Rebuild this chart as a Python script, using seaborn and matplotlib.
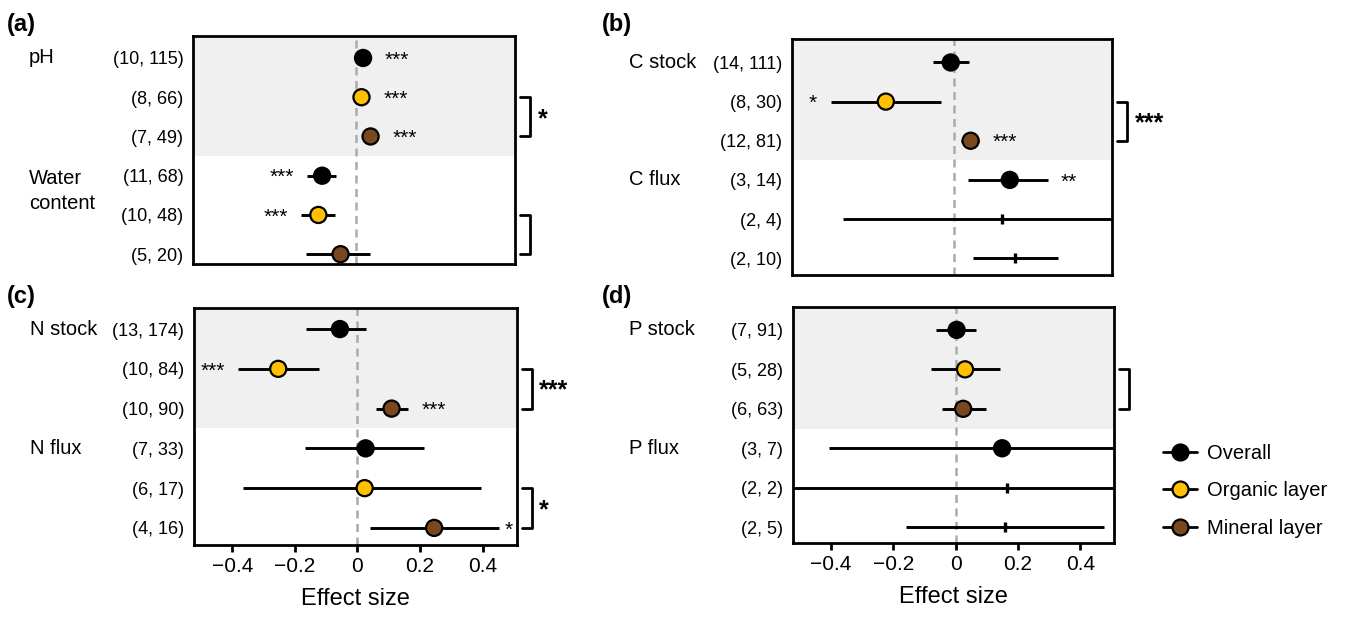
import matplotlib
matplotlib.use("Agg")
import matplotlib.pyplot as plt
import matplotlib.transforms as mtransforms
from matplotlib.lines import Line2D
import numpy as np
import pandas as pd
import seaborn as sns

# --- data -------------------------------------------------------------------
LAYERS = ["Overall", "Organic layer", "Mineral layer"]
LAYER_COLORS = {"Overall": "#000000", "Organic layer": "#FFC000", "Mineral layer": "#7A481E"}

# (a) pH / water content
a_groups = ["pH", "Water\ncontent"]
a_studies = [10, 8, 7, 11, 10, 5]
a_obs = [115, 66, 49, 68, 48, 20]
a_mean = [0.022, 0.017, 0.046, -0.109, -0.121, -0.050]
a_lo = [0.010, 0.005, 0.030, -0.157, -0.175, -0.159]
a_hi = [0.034, 0.029, 0.062, -0.063, -0.069, 0.044]
a_sig = ["***", "***", "***", "***", "***", ""]
a_side = ["right", "right", "right", "left", "left", ""]
a_between = ["*", ""]          # organic vs mineral, per group (None = not tested)

# (b) C stock / C flux
b_groups = ["C stock", "C flux"]
b_studies = [14, 8, 12, 3, 2, 2]
b_obs = [111, 30, 81, 14, 4, 10]
b_mean = [-0.011, -0.220, 0.053, 0.179, 0.155, 0.196]
b_lo = [-0.069, -0.398, 0.022, 0.043, -0.359, 0.062]
b_hi = [0.048, -0.042, 0.081, 0.301, 0.90, 0.333]
b_sig = ["", "*", "***", "**", "", ""]
b_side = ["", "left", "right", "right", "", ""]
b_between = ["***", None]

# (c) N stock / N flux
c_groups = ["N stock", "N flux"]
c_studies = [13, 10, 10, 7, 6, 4]
c_obs = [174, 84, 90, 33, 17, 16]
c_mean = [-0.056, -0.253, 0.109, 0.026, 0.023, 0.245]
c_lo = [-0.163, -0.381, 0.059, -0.168, -0.365, 0.039]
c_hi = [0.027, -0.122, 0.163, 0.212, 0.396, 0.453]
c_sig = ["", "***", "***", "", "", "*"]
c_side = ["", "left", "right", "", "", "right"]
c_between = ["***", "*"]

# (d) P stock / P flux
d_groups = ["P stock", "P flux"]
d_studies = [7, 5, 6, 3, 2, 2]
d_obs = [91, 28, 63, 7, 2, 5]
d_mean = [0.003, 0.030, 0.024, 0.149, 0.165, 0.159]
d_lo = [-0.063, -0.079, -0.043, -0.407, -0.90, -0.158]
d_hi = [0.065, 0.141, 0.096, 0.90, 0.90, 0.477]
d_sig = ["", "", "", "", "", ""]
d_side = ["", "", "", "", "", ""]
d_between = ["", None]

xticks = [-0.4, -0.2, 0, 0.2, 0.4]
xticklabels = ["\u22120.4", "\u22120.2", "0", "0.2", "0.4"]

# --- style ------------------------------------------------------------------
sns.set_theme(style="ticks")
plt.rcParams["font.family"] = ["Liberation Sans", "DejaVu Sans"]
plt.rcParams.update({
    "axes.linewidth": 2.0,
    "text.color": "black",
    "axes.labelcolor": "black",
    "xtick.color": "black",
    "ytick.color": "black",
    "axes.edgecolor": "black",
})

XLIM = (-0.522, 0.508)
MARK_R = 0.027      # marker radius in data units (for star placement)
GAP = 0.043
STAR_FS = 15


def draw_panel(ax, groups, studies, obs, mean, lo, hi, sig, side, between,
               ylim, bottom):
    df = pd.DataFrame({
        "row": np.arange(len(mean)),
        "layer": LAYERS * 2,
        "studies": studies, "obs": obs,
        "mean": mean, "lo": lo, "hi": hi,
    })
    ax.axhspan(ylim[1], 2.5, color="#f0f0f0", zorder=0, lw=0)
    ax.axvline(0, color="#ababab", lw=1.8, ls=(0, (3.2, 2.2)), zorder=1)
    ax.hlines(df["row"], df["lo"], df["hi"], color="black", lw=2.1, zorder=2)

    pts = df[df["studies"] > 2]
    sns.scatterplot(data=pts, x="mean", y="row", hue="layer", palette=LAYER_COLORS,
                    s=135, edgecolor="black", linewidth=1.6, legend=False,
                    zorder=3, ax=ax)
    few = df[df["studies"] <= 2]
    ax.plot(few["mean"], few["row"], ls="none", marker="|", color="black",
            markersize=7, mew=2.4, zorder=3)

    # significance stars next to each estimate
    for r, (s, sd) in enumerate(zip(sig, side)):
        if not s:
            continue
        if sd == "right":
            x = min(max(hi[r], mean[r] + MARK_R) + GAP, 0.47)
            ha = "left"
        else:
            x = min(lo[r], mean[r] - MARK_R) - GAP
            ha = "right"
        ax.annotate(s, (x, r), xytext=(0, -0.36 * STAR_FS), textcoords="offset points",
                    ha=ha, va="baseline", fontsize=STAR_FS, annotation_clip=False)

    # organic vs mineral brackets
    trans = mtransforms.blended_transform_factory(ax.transAxes, ax.transData)
    for g, lab in enumerate(between):
        if lab is None:
            continue
        r1, r2 = 3 * g + 1, 3 * g + 2
        ax.plot([1.016, 1.048, 1.048, 1.016], [r1, r1, r2, r2], color="black",
                lw=2.0, transform=trans, clip_on=False)
        if lab:
            ax.annotate(lab, (1.07, (r1 + r2) / 2), xycoords=trans,
                        xytext=(0, -0.36 * 18), textcoords="offset points",
                        ha="left", va="baseline", fontsize=18, fontweight="bold",
                        annotation_clip=False)

    # group names
    for g, name in enumerate(groups):
        y = 3 * g + (0.39 if "\n" in name else 0)
        ax.text(-0.51, y, name, transform=trans, ha="left", va="center",
                fontsize=14.5, linespacing=1.42)

    ax.set_xlim(*XLIM)
    ax.set_ylim(*ylim)
    ax.set_yticks(df["row"])
    ax.set_yticklabels([f"({k}, {n})" for k, n in zip(studies, obs)], fontsize=13)
    ax.tick_params(axis="y", length=0, pad=7)
    ax.set_ylabel("")
    ax.set_xticks(xticks)
    if bottom:
        ax.set_xticklabels(xticklabels, fontsize=15)
        ax.tick_params(axis="x", length=5, width=2.0, pad=4, color="black")
        ax.set_xlabel("Effect size", fontsize=17, labelpad=8)
    else:
        ax.tick_params(axis="x", length=0, labelbottom=False)
        ax.set_xlabel("")
    for sp in ax.spines.values():
        sp.set_visible(True)
        sp.set_color("black")
        sp.set_linewidth(2.0)


W, H = 1348, 619
fig = plt.figure(figsize=(W / 100, H / 100), dpi=100)


def box(left, right, top, bottom):
    return [left / W, 1 - bottom / H, (right - left) / W, (bottom - top) / H]


ax_a = fig.add_axes(box(193, 515, 36, 264))
ax_b = fig.add_axes(box(792, 1112, 39, 275))
ax_c = fig.add_axes(box(194, 516.5, 308, 545))
ax_d = fig.add_axes(box(793, 1114, 307, 543))

draw_panel(ax_a, a_groups, a_studies, a_obs, a_mean, a_lo, a_hi, a_sig, a_side,
           a_between, (5.25, -0.56), False)
draw_panel(ax_b, b_groups, b_studies, b_obs, b_mean, b_lo, b_hi, b_sig, b_side,
           b_between, (5.43, -0.6), False)
draw_panel(ax_c, c_groups, c_studies, c_obs, c_mean, c_lo, c_hi, c_sig, c_side,
           c_between, (5.43, -0.53), True)
draw_panel(ax_d, d_groups, d_studies, d_obs, d_mean, d_lo, d_hi, d_sig, d_side,
           d_between, (5.4, -0.58), True)

for lab, x, y in [("(a)", 7, 25), ("(b)", 602, 25), ("(c)", 7, 296), ("(d)", 602, 296)]:
    fig.text(x / W, 1 - y / H, lab, fontsize=17, fontweight="bold",
             ha="left", va="center")

handles = [Line2D([0], [0], color="black", lw=2.0, marker="o", markersize=11.5,
                  markerfacecolor=LAYER_COLORS[l], markeredgecolor="black",
                  markeredgewidth=1.6) for l in LAYERS]
fig.legend(handles, LAYERS, loc="center left", bbox_to_anchor=(1163 / W, 1 - 491 / H),
           frameon=False, fontsize=14.5, handlelength=1.7, handletextpad=0.5,
           labelspacing=0.9, borderpad=0, borderaxespad=0)

fig.savefig("out.png", dpi=100)
